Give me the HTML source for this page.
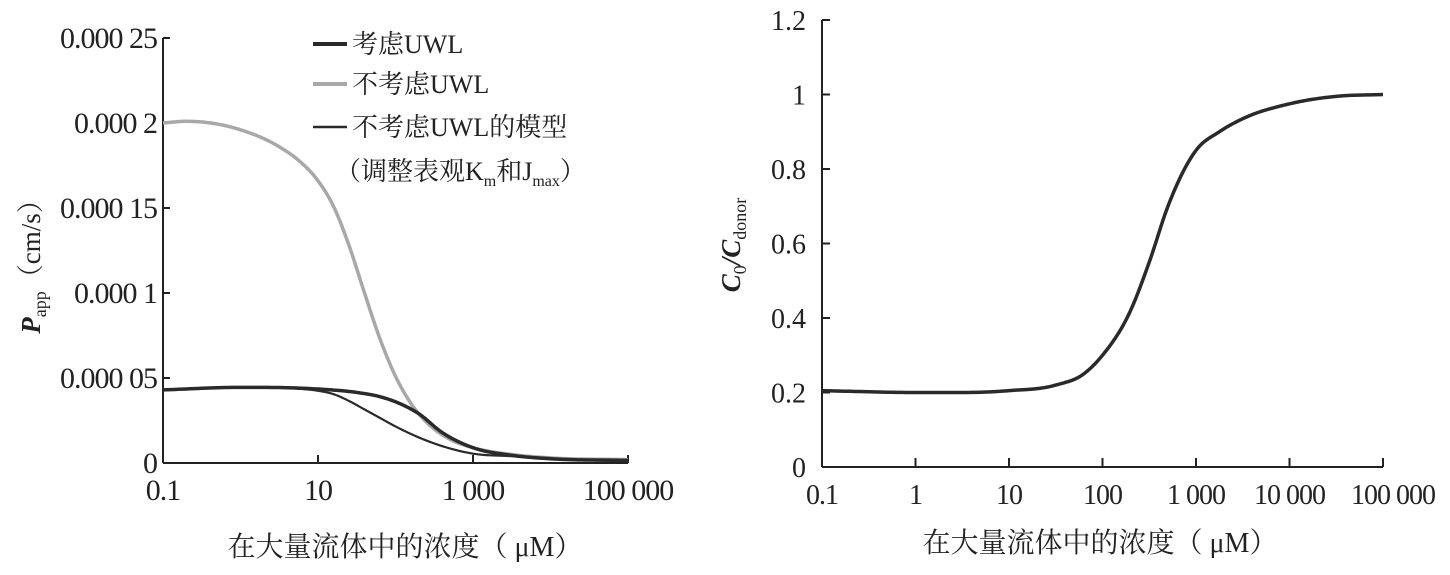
<!DOCTYPE html>
<html><head><meta charset="utf-8"><style>
body{margin:0;background:#fff}
svg text{font-family:"Liberation Serif","Noto Serif CJK SC",serif;fill:#222}
</style></head><body>
<svg id="c" width="1450" height="570" viewBox="0 0 1450 570" xmlns="http://www.w3.org/2000/svg"></svg>
<script>
const leftX=[-1,-0.7,0,0.5,0.75,1,1.2,1.4,1.6,1.8,2,2.2,2.4,2.7,3,3.5,4,5];
const leftGray=[20.0,20.1,19.6,18.6,17.8,16.6,15.1,12.8,10.0,7.3,5.1,3.5,2.4,1.4,0.9,0.5,0.3,0.2];
const leftUwlX=[-1,0,1,1.5,1.8,2,2.3,2.6,3,3.5,4,5];
const leftUwl=[4.3,4.45,4.35,4.15,3.9,3.6,2.9,1.8,0.9,0.45,0.25,0.15];
const leftModelX=[-1,0,0.8,1,1.2,1.4,1.6,1.8,2,2.5,3,3.5,4,5];
const leftModel=[4.3,4.45,4.35,4.25,4.05,3.65,3.15,2.65,2.15,1.15,0.55,0.4,0.25,0.1];
const leftYTicks=[0,5,10,15,20,25];
const leftYLabels=["0","0.000 05","0.000 1","0.000 15","0.000 2","0.000 25"];
const leftXTicks=[-1,1,3,5];
const leftXLabels=["0.1","10","1 000","100 000"];
const rightX=[-1,0,0.5,1,1.5,1.8,2,2.3,2.5,2.7,3,3.25,3.5,4,4.5,5];
const rightY=[0.205,0.2,0.2,0.205,0.22,0.25,0.3,0.42,0.55,0.7,0.85,0.9,0.935,0.975,0.995,1.0];
const rightYTicks=[0,0.2,0.4,0.6,0.8,1,1.2];
const rightYLabels=["0","0.2","0.4","0.6","0.8","1","1.2"];
const rightXTicks=[-1,0,1,2,3,4,5];
const rightXLabels=["0.1","1","10","100","1 000","10 000","100 000"];

const svg=document.getElementById('c');
const NS="http://www.w3.org/2000/svg";
function mk(t,a,parent){const e=document.createElementNS(NS,t);for(const k in a)e.setAttribute(k,a[k]);(parent||svg).appendChild(e);return e;}
function path(xs,ys,sx,sy){
  const n=xs.length,d=[],m=[];
  for(let i=0;i<n-1;i++)d.push((ys[i+1]-ys[i])/(xs[i+1]-xs[i]));
  m[0]=d[0];m[n-1]=d[n-2];
  for(let i=1;i<n-1;i++){if(d[i-1]*d[i]<=0){m[i]=0;}else{const h0=xs[i]-xs[i-1],h1=xs[i+1]-xs[i];m[i]=(d[i-1]*h1+d[i]*h0)/(h0+h1);}}
  for(let i=0;i<n-1;i++){if(d[i]===0){m[i]=0;m[i+1]=0;continue;}
    const a=m[i]/d[i],b=m[i+1]/d[i],s=a*a+b*b;if(s>9){const t=3/Math.sqrt(s);m[i]=t*a*d[i];m[i+1]=t*b*d[i];}}
  let out="M"+sx(xs[0])+","+sy(ys[0]);
  for(let i=0;i<n-1;i++){const h=xs[i+1]-xs[i];
    for(let k=1;k<=20;k++){const t=k/20,t2=t*t,t3=t2*t;
      const y=(2*t3-3*t2+1)*ys[i]+(t3-2*t2+t)*h*m[i]+(-2*t3+3*t2)*ys[i+1]+(t3-t2)*h*m[i+1];
      out+=" L"+sx(xs[i]+t*h).toFixed(2)+","+sy(y).toFixed(2);}}
  return out;}

const lx=v=>163+(v+1)*77.5, ly=v=>463-v*17;
let e;
e=mk('line',{x1:163,y1:38,x2:163,y2:463,stroke:'#222','stroke-width':2});

e=mk('line',{x1:163,y1:463,x2:628,y2:463,stroke:'#222','stroke-width':2});

leftYTicks.forEach((t,i)=>{mk('line',{x1:163,y1:ly(t),x2:170,y2:ly(t),stroke:'#222','stroke-width':2});
e=mk('text',{x:157,y:ly(t)+10,'text-anchor':'end','font-size':30,'letter-spacing':'-1'});e.textContent=leftYLabels[i];
});
leftXTicks.forEach((t,i)=>{mk('line',{x1:lx(t),y1:463,x2:lx(t),y2:455,stroke:'#222','stroke-width':2});
e=mk('text',{x:lx(t),y:500,'text-anchor':'middle','font-size':30,'letter-spacing':'-1'});e.textContent=leftXLabels[i];
});
e=mk('path',{d:path(leftX,leftGray,lx,ly),fill:'none',stroke:'#a8a8a8','stroke-width':3.5});

e=mk('path',{d:path(leftUwlX,leftUwl,lx,ly),fill:'none',stroke:'#2a2a2a','stroke-width':3.5});

e=mk('path',{d:path(leftModelX,leftModel,lx,ly),fill:'none',stroke:'#2a2a2a','stroke-width':2.2});

const lg=mk('g',{});
mk('line',{x1:313,y1:44,x2:347,y2:44,stroke:'#2a2a2a','stroke-width':4},lg);
mk('line',{x1:313,y1:84,x2:347,y2:84,stroke:'#a8a8a8','stroke-width':4},lg);
mk('line',{x1:313,y1:127,x2:347,y2:127,stroke:'#2a2a2a','stroke-width':2.5},lg);
e=mk('text',{x:352,y:53,'font-size':26},lg);e.textContent="考虑UWL";
e=mk('text',{x:352,y:93,'font-size':26},lg);e.textContent="不考虑UWL";
e=mk('text',{x:352,y:136,'font-size':26},lg);e.textContent="不考虑UWL的模型";
e=mk('text',{x:335,y:180,'font-size':26},lg);e.innerHTML='（调整表观K<tspan font-size="16" dy="6">m</tspan><tspan dy="-6">和J</tspan><tspan font-size="16" dy="6">max</tspan><tspan dy="-6">）</tspan>';
e=mk('text',{x:0,y:0,'font-size':27,transform:'translate(40,260) rotate(-90)','text-anchor':'middle'});
e.innerHTML='<tspan font-style="italic" font-weight="bold">P</tspan><tspan font-size="18" dy="6">app</tspan><tspan dy="-6">（cm/s）</tspan>';

e=mk('text',{x:405,y:556,'text-anchor':'middle','font-size':28});e.textContent="在大量流体中的浓度（ μM）";


const rx=v=>822+(v+1)*93.5, ry=v=>467-v*372.5;
e=mk('line',{x1:822,y1:20,x2:822,y2:467,stroke:'#222','stroke-width':2});

e=mk('line',{x1:822,y1:467,x2:1383,y2:467,stroke:'#222','stroke-width':2});

rightYTicks.forEach((t,i)=>{mk('line',{x1:822,y1:ry(t),x2:830,y2:ry(t),stroke:'#222','stroke-width':2});
e=mk('text',{x:806,y:ry(t)+10,'text-anchor':'end','font-size':28});e.textContent=rightYLabels[i];
});
rightXTicks.forEach((t,i)=>{mk('line',{x1:rx(t),y1:467,x2:rx(t),y2:458,stroke:'#222','stroke-width':2});
e=mk('text',{x:rx(t)+(t==5?10:0),y:504,'text-anchor':'middle','font-size':28,'letter-spacing':'-1'});e.textContent=rightXLabels[i];
});
e=mk('path',{d:path(rightX,rightY,rx,ry),fill:'none',stroke:'#2a2a2a','stroke-width':3.5});

e=mk('text',{x:0,y:0,'font-size':27,transform:'translate(740,245) rotate(-90)','text-anchor':'middle'});
e.innerHTML='<tspan font-style="italic" font-weight="bold">C</tspan><tspan font-size="18" dy="6">0</tspan><tspan dy="-6" font-style="italic" font-weight="bold">/C</tspan><tspan font-size="18" dy="6">donor</tspan>';

e=mk('text',{x:1100,y:552,'text-anchor':'middle','font-size':28});e.textContent="在大量流体中的浓度（ μM）";

</script>
</body></html>
